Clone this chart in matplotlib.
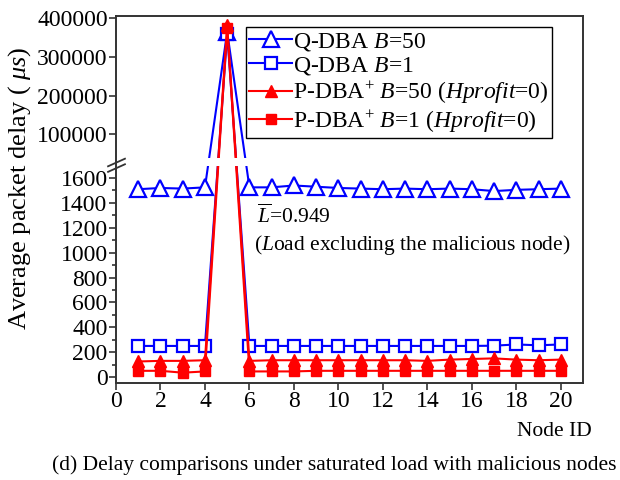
#!/usr/bin/env python3
"""Delay comparison under saturated load with malicious nodes (broken y axis)."""
import numpy as np
import matplotlib
matplotlib.use("Agg")
import matplotlib.pyplot as plt
from matplotlib.path import Path
from matplotlib.ticker import FixedLocator, FuncFormatter

plt.rcParams["font.family"] = ["Liberation Serif", "DejaVu Serif"]
plt.rcParams["mathtext.fontset"] = "custom"
plt.rcParams["mathtext.rm"] = "Liberation Serif"
plt.rcParams["mathtext.it"] = "Liberation Serif:italic"

nodes = list(range(1, 21))

qdba_b50 = [1510, 1520, 1515, 1525, 365000, 1525, 1525, 1540, 1530, 1520,
            1515, 1510, 1515, 1510, 1515, 1510, 1495, 1505, 1510, 1515]
qdba_b1 = [250, 250, 250, 250, 360000, 250, 250, 250, 250, 250,
           250, 250, 250, 250, 250, 250, 252, 262, 255, 262]
pdba_b50 = [125, 130, 130, 135, 382000, 130, 135, 135, 135, 135,
            135, 135, 135, 130, 140, 145, 150, 140, 135, 140]
pdba_b1 = [50, 50, 35, 45, 375000, 45, 45, 45, 50, 50,
           50, 50, 50, 50, 50, 50, 50, 50, 50, 50]

y_ticks_low = [0, 200, 400, 600, 800, 1000, 1200, 1400, 1600]
y_ticks_high = [100000, 200000, 300000, 400000]
x_ticks = [0, 2, 4, 6, 8, 10, 12, 14, 16, 18, 20]

# broken axis: lower part 0..LOW_TOP, upper part HIGH_BOT..top
LOW_TOP = 1700
HIGH_BOT = 40000
GAP = 64.0           # size of the break, in lower-axis units
K_HIGH = 0.003111    # upper-axis units per lower-axis unit


def fwd(v):
    v = np.asarray(v, dtype=float)
    mid = LOW_TOP + (v - LOW_TOP) / (HIGH_BOT - LOW_TOP) * GAP
    high = LOW_TOP + GAP + (v - HIGH_BOT) * K_HIGH
    return np.where(v <= LOW_TOP, v, np.where(v >= HIGH_BOT, high, mid))


def inv(u):
    u = np.asarray(u, dtype=float)
    mid = LOW_TOP + (u - LOW_TOP) / GAP * (HIGH_BOT - LOW_TOP)
    high = HIGH_BOT + (u - LOW_TOP - GAP) / K_HIGH
    return np.where(u <= LOW_TOP, u, np.where(u >= LOW_TOP + GAP, high, mid))


def main():
    fig = plt.figure(figsize=(6.2, 4.8), dpi=100)
    ax = fig.add_axes([116 / 620, 1 - 383 / 480, 467 / 620, 367 / 480])
    ax.set_yscale("function", functions=(fwd, inv))

    blue, red = "#0000ff", "#ff0000"
    ax.plot(nodes, qdba_b50, color=blue, lw=1.5, marker="^", ms=11,
            mfc="white", mec=blue, mew=1.6, label="Q-DBA $B$=50", zorder=2)
    ax.plot(nodes, qdba_b1, color=blue, lw=1.5, marker="s", ms=9,
            mfc="white", mec=blue, mew=1.6, label="Q-DBA $B$=1", zorder=2)
    ax.plot(nodes, pdba_b50, color=red, lw=1.5, marker="^", ms=9,
            mfc=red, mec=red, label="P-DBA$^{+}$ $B$=50 ($Hprofit$=0)", zorder=2.1)
    ax.plot(nodes, pdba_b1, color=red, lw=1.5, marker="s", ms=7,
            mfc=red, mec=red, label="P-DBA$^{+}$ $B$=1 ($Hprofit$=0)", zorder=2.1)

    # blank band over the break
    ax.axhspan(LOW_TOP, HIGH_BOT, color="white", lw=0, zorder=2.3)

    ax.set_xlim(0, 21)
    ax.set_ylim(-48, 406000)
    ax.xaxis.set_major_locator(FixedLocator(x_ticks))
    ax.yaxis.set_major_locator(FixedLocator(y_ticks_low + y_ticks_high))
    ax.yaxis.set_minor_locator(FixedLocator([t + 100 for t in y_ticks_low[:-1]]))
    ax.yaxis.set_major_formatter(FuncFormatter(lambda v, p: f"{v:.0f}"))
    ax.yaxis.set_minor_formatter(FuncFormatter(lambda v, p: ""))

    for s in ax.spines.values():
        s.set_color("#333333")
        s.set_linewidth(1.4)
    ax.tick_params(axis="both", which="major", direction="out", length=5,
                   width=1.2, color="#333333", labelsize=17, pad=1)
    ax.tick_params(axis="y", which="minor", direction="out", length=3,
                   width=1.2, color="#333333")

    # break marks on the left spine
    mark = Path([(-1, -0.45), (1, 0.45), (-1, -1.05), (1, -0.15)],
                [Path.MOVETO, Path.LINETO, Path.MOVETO, Path.LINETO])
    ax.plot([0], [(LOW_TOP + HIGH_BOT) / 2], marker=mark, ms=14, mew=1.3,
            color="#333333", transform=ax.get_yaxis_transform(),
            clip_on=False, zorder=5, ls="none")

    ax.set_ylabel("Average packet delay ( $\\mu s$)", fontsize=19)
    ax.yaxis.set_label_coords(-0.178, 0.53)

    ax.text(6.35, 1290, "$\\overline{L}$=0.949", fontsize=15.5, va="center")
    ax.text(6.2, 1060, "($L$oad excluding the malicious node)", fontsize=15.5,
            va="center")

    leg = ax.legend(loc="upper right", bbox_to_anchor=(0.934, 0.970),
                    borderaxespad=0, fontsize=17, handlelength=1.8,
                    handletextpad=0.05, labelspacing=0.1, borderpad=0.15,
                    fancybox=False, edgecolor="black", framealpha=1)
    leg.get_frame().set_linewidth(1.0)
    leg.set_zorder(6)

    fig.text(592 / 620, 1 - 432 / 480, "Node ID", fontsize=15.5,
             ha="right", va="center")
    fig.text(334 / 620, 1 - 465 / 480,
             "(d) Delay comparisons under saturated load with malicious nodes",
             fontsize=15.5, ha="center", va="center")

    fig.savefig("out.png", dpi=100)


if __name__ == "__main__":
    main()
